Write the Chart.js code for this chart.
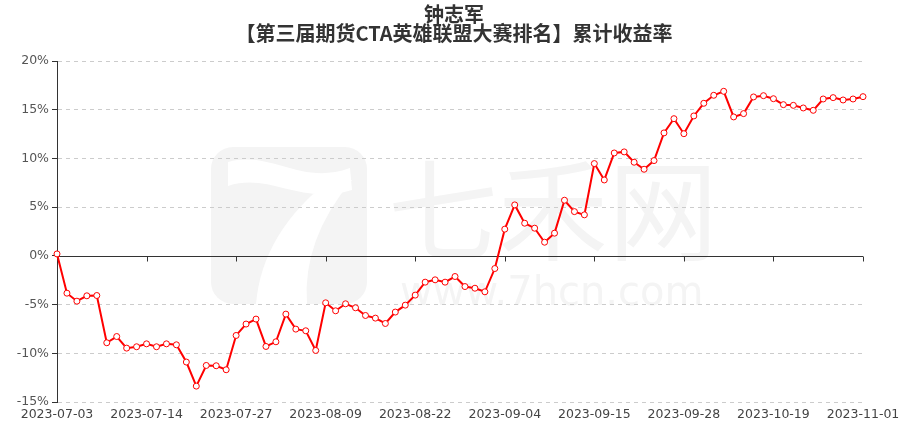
<!DOCTYPE html>
<html>
<head>
<meta charset="utf-8">
<script src="https://cdn.jsdelivr.net/npm/chart.js@4"></script>
<style>
  html, body { margin: 0; padding: 0; background: #fff; }
  #box { width: 908px; height: 427px; }
</style>
</head>
<body>
<div id="box"><canvas id="myChart"></canvas></div>
<script>

var titleLines = ["钟志军", "【第三届期货CTA英雄联盟大赛排名】累计收益率"];

var dates = [
  "2023-07-03","2023-07-04","2023-07-05","2023-07-06","2023-07-07","2023-07-10","2023-07-11","2023-07-12","2023-07-13","2023-07-14",
  "2023-07-17","2023-07-18","2023-07-19","2023-07-20","2023-07-21","2023-07-24","2023-07-25","2023-07-26","2023-07-27","2023-07-28",
  "2023-07-31","2023-08-01","2023-08-02","2023-08-03","2023-08-04","2023-08-07","2023-08-08","2023-08-09","2023-08-10","2023-08-11",
  "2023-08-14","2023-08-15","2023-08-16","2023-08-17","2023-08-18","2023-08-21","2023-08-22","2023-08-23","2023-08-24","2023-08-25",
  "2023-08-28","2023-08-29","2023-08-30","2023-08-31","2023-09-01","2023-09-04","2023-09-05","2023-09-06","2023-09-07","2023-09-08",
  "2023-09-11","2023-09-12","2023-09-13","2023-09-14","2023-09-15","2023-09-18","2023-09-19","2023-09-20","2023-09-21","2023-09-22",
  "2023-09-25","2023-09-26","2023-09-27","2023-09-28","2023-10-09","2023-10-10","2023-10-11","2023-10-12","2023-10-13","2023-10-16",
  "2023-10-17","2023-10-18","2023-10-19","2023-10-20","2023-10-23","2023-10-24","2023-10-25","2023-10-26","2023-10-27","2023-10-30",
  "2023-10-31","2023-11-01"
];

// cumulative return, %
var returns = [
  0.2, -3.83, -4.65, -4.10, -4.07, -8.92, -8.28, -9.47, -9.33, -9.03,
  -9.33, -9.03, -9.13, -10.9, -13.37, -11.25, -11.28, -11.69, -8.17, -7.0,
  -6.49, -9.3, -8.82, -5.98, -7.52, -7.69, -9.71, -4.82, -5.64, -4.92,
  -5.33, -6.12, -6.39, -6.94, -5.77, -5.06, -4.03, -2.70, -2.46, -2.70,
  -2.12, -3.15, -3.32, -3.69, -1.3, 2.74, 5.23, 3.35, 2.84, 1.4,
  2.33, 5.71, 4.54, 4.21, 9.47, 7.79, 10.56, 10.67, 9.61, 8.89,
  9.78, 12.62, 14.08, 12.54, 14.36, 15.66, 16.48, 16.89, 14.26, 14.6,
  16.31, 16.44, 16.13, 15.52, 15.45, 15.18, 14.94, 16.1, 16.24, 16.0,
  16.1, 16.34
];

var yMin = -15, yMax = 20, yStep = 5;
var labelEvery = 9;

var lineColor = "#ff0000";
var axisColor = "#333333";
var tickFont = { family: "'DejaVu Sans'", size: 12.5 };

// light watermark behind everything
var watermark = {
  id: "watermark",
  beforeDraw: function (chart) {
    var ctx = chart.ctx;
    ctx.save();
    ctx.fillStyle = "#f4f4f4";
    ctx.beginPath();
    ctx.roundRect(211, 147, 156, 157, 22);
    ctx.fill();
    // white "7" cut into the logo
    ctx.fillStyle = "#ffffff";
    ctx.beginPath();
    ctx.moveTo(228, 162);
    ctx.bezierCurveTo(272, 150, 300, 186, 350, 168);
    ctx.lineTo(352, 190);
    ctx.bezierCurveTo(300, 206, 270, 172, 228, 186);
    ctx.closePath();
    ctx.fill();
    ctx.beginPath();
    ctx.moveTo(332, 178);
    ctx.lineTo(352, 180);
    ctx.quadraticCurveTo(302, 240, 307, 304);
    ctx.lineTo(256, 304);
    ctx.quadraticCurveTo(262, 232, 332, 178);
    ctx.closePath();
    ctx.fill();
    ctx.fillStyle = "#f4f4f4";
    ctx.font = "110px 'Noto Sans CJK SC'";
    ctx.textAlign = "left";
    ctx.textBaseline = "alphabetic";
    ctx.fillText("七禾网", 388, 252);
    ctx.font = "40px 'DejaVu Sans'";
    ctx.fillText("www.7hcn.com", 400, 305);
    ctx.restore();
  }
};

// zero axis line with its tick marks
var zeroAxis = {
  id: "zeroAxis",
  beforeDatasetsDraw: function (chart) {
    var ctx = chart.ctx;
    var x = chart.scales.x, y = chart.scales.y;
    var y0 = Math.round(y.getPixelForValue(0)) + 0.5;
    ctx.save();
    ctx.strokeStyle = axisColor;
    ctx.lineWidth = 1;
    ctx.beginPath();
    ctx.moveTo(chart.chartArea.left, y0);
    ctx.lineTo(chart.chartArea.right, y0);
    for (var i = 0; i < dates.length; i += labelEvery) {
      var px = Math.round(x.getPixelForValue(i)) + 0.5;
      ctx.moveTo(px, y0);
      ctx.lineTo(px, y0 + 5);
    }
    ctx.stroke();
    ctx.restore();
  }
};

new Chart("myChart", {
  type: "line",
  data: {
    labels: dates,
    datasets: [{
      data: returns,
      borderColor: lineColor,
      borderWidth: 2,
      pointRadius: 3,
      pointBorderWidth: 1,
      pointBackgroundColor: "#ffffff",
      pointBorderColor: lineColor,
      tension: 0
    }]
  },
  options: {
    responsive: true,
    maintainAspectRatio: false,
    animation: false,
    layout: { padding: 0 },
    plugins: {
      legend: { display: false },
      tooltip: { enabled: false },
      title: {
        display: true,
        text: titleLines,
        color: "#333333",
        font: { family: "'Noto Sans CJK SC'", size: 20, weight: "bold", lineHeight: "19px" },
        padding: { top: 4.5, bottom: 18.5 }
      }
    },
    scales: {
      x: {
        offset: false,
        grid: { display: false, drawTicks: false },
        border: { display: false },
        ticks: {
          autoSkip: false,
          maxRotation: 0,
          padding: 5,
          color: "#444444",
          font: tickFont,
          callback: function (v, i) { return i % labelEvery === 0 ? dates[i] : null; }
        },
        afterFit: function (s) { s.height = 25; }
      },
      y: {
        min: yMin,
        max: yMax,
        grid: {
          color: function (c) { return c.tick && c.tick.value === 0 ? "rgba(0,0,0,0)" : "#cccccc"; },
          tickColor: axisColor,
          tickLength: 5,
          tickBorderDash: [],
          lineWidth: 1
        },
        border: { display: true, color: axisColor, width: 1, dash: [4, 4] },
        ticks: {
          stepSize: yStep,
          padding: 3,
          color: "#555555",
          font: tickFont,
          callback: function (v) { return v + "%"; }
        },
        afterFit: function (s) { s.width = 57; }
      },
      // empty spacer on the right so the title stays centred on the page
      yRight: {
        position: "right",
        grid: { display: false, drawTicks: false },
        border: { display: false },
        ticks: { display: false },
        afterFit: function (s) { s.width = 45; }
      }
    }
  },
  plugins: [watermark, zeroAxis]
});
</script>
</body>
</html>
